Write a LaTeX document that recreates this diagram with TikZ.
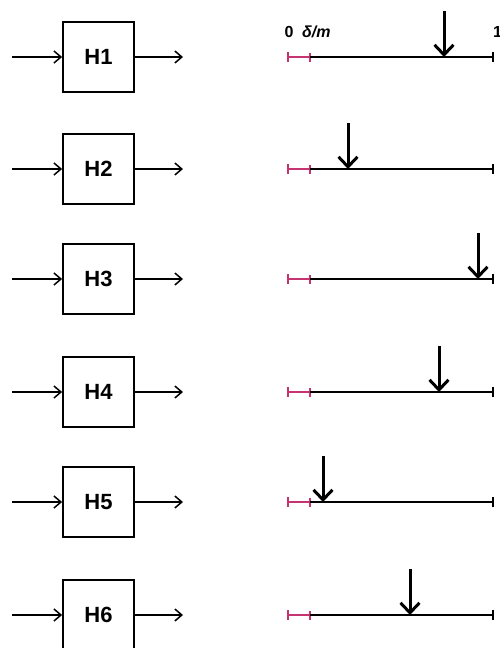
\documentclass[tikz,border=0pt]{standalone}
\usepackage{fontspec}
\setmainfont{Liberation Sans}
\usetikzlibrary{arrows.meta}
\definecolor{pinkc}{RGB}{196,52,112}
\begin{document}
\begin{tikzpicture}[x=1pt,y=-1pt,
  hbox/.style={draw,line width=1.8pt,minimum width=71pt,minimum height=70pt,inner sep=0pt,font=\fontsize{22}{22}\selectfont\bfseries},
  sig/.style={line width=1.5pt,-{Straight Barb[length=7pt,width=12pt,line width=1.5pt]}},
  ptr/.style={line width=3pt,-{Straight Barb[length=10pt,width=19pt,line width=3pt]}},
  nline/.style={line width=2pt},
  pline/.style={line width=2pt,draw=pinkc},
  lab/.style={font=\fontsize{16}{16}\selectfont\bfseries,inner sep=0pt}]
\useasboundingbox (0,0) rectangle (500,648);
\foreach \i/\y/\ax in {1/57/444,2/169/348,3/279/478,4/392/439,5/502/323,6/615/410}{
  \node[hbox] (b\i) at (98.5,\y) {H\i};
  \coordinate (in\i) at (12,\y);
  \coordinate (out\i) at (183,\y);
  \draw[sig] (in\i) -- (b\i.west);
  \draw[sig] (b\i.east) -- (out\i);
  \coordinate (z\i) at (288,\y);
  \coordinate (d\i) at (310,\y);
  \coordinate (e\i) at (493,\y);
  \coordinate (p\i) at (\ax,\y);
  \coordinate (t\i) at (\ax,\y-46);
  \draw[pline] (z\i) -- (d\i);
  \draw[pinkc,line width=2.4pt] ([yshift=-5]z\i) -- ([yshift=5]z\i);
  \draw[pinkc,line width=1.2pt] ([yshift=-4.5]d\i) -- ([yshift=4.5]d\i);
  \draw[nline] (d\i) -- (e\i);
  \draw[line width=1.2pt] ([yshift=-5]e\i) -- ([yshift=5]e\i);
  \draw[ptr] (t\i) -- (p\i);
}
\node[lab] (l0) at (289,32) {0};
\node[lab,anchor=west] (ld) at (302,32) {\textit{δ/m}};
\node[lab,anchor=west] (l1) at (493,32) {1};
\end{tikzpicture}
\end{document}
